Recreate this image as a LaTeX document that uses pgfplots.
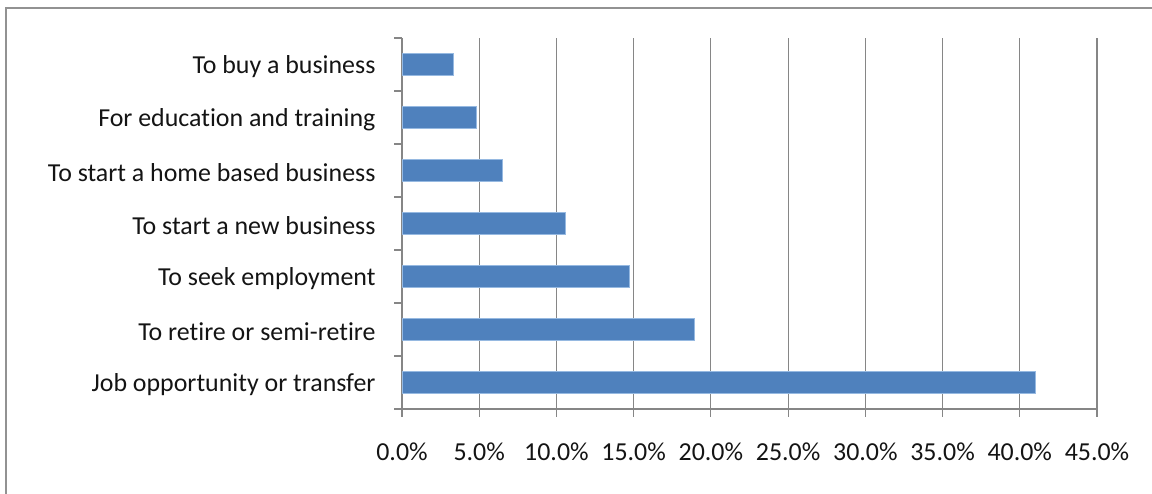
\documentclass[border=0pt]{standalone}
\usepackage{fontspec}
\setmainfont{Carlito}[Ligatures={NoCommon}]
\usepackage{pgfplots}
\pgfplotsset{compat=1.18}
\definecolor{barblue}{RGB}{79,129,189}
\definecolor{baredge}{RGB}{150,185,225}
\definecolor{gridgray}{RGB}{134,134,134}
\definecolor{txt}{RGB}{20,20,20}
\begin{document}
\begin{tikzpicture}[x=1bp,y=1bp]
\useasboundingbox (0,0) rectangle (1152,494);
\clip (0,0) rectangle (1152,494);
\draw[gridgray!90, line width=2bp] (6,-20) -- (6,486) -- (1170,486);
\begin{axis}[
  at={(402bp,85bp)}, anchor=south west,
  scale only axis, width=695bp, height=371bp,
  xbar, bar width=22bp,
  xmin=0, xmax=45,
  ymin=-0.5, ymax=6.5,
  axis x line*=bottom, axis y line*=left,
  axis line style={gridgray, line width=1.2bp},
  xtick={0,5,...,45},
  xticklabel={\pgfmathprintnumber[fixed,fixed zerofill,precision=1]{\tick}\%},
  /pgf/number format/assume math mode=true,
  ytick={0,...,6},
  yticklabels={Job opportunity or transfer,To retire or semi-retire,To seek employment,To start a new business,To start a home based business,For education and training,To buy a business},
  major y tick style={draw=none},
  minor ytick={-0.5,0.5,...,6.5},
  minor tick length=8bp,
  major tick length=8bp,
  tick align=outside,
  tick style={gridgray, line width=1.2bp},
  xmajorgrids, grid style={gridgray, line width=1.2bp},
  ticklabel style={font=\fontsize{26}{30}\selectfont, text=txt},
  yticklabel style={xshift=-15bp, yshift=-2bp},
  xticklabel style={yshift=-22bp},
  clip=false,
]
\addplot[fill=barblue, draw=baredge, line width=0.8bp] coordinates {
  (41.0,0) (18.9,1) (14.7,2) (10.6,3) (6.5,4) (4.8,5) (3.3,6)
};
\end{axis}
\end{tikzpicture}
\end{document}
